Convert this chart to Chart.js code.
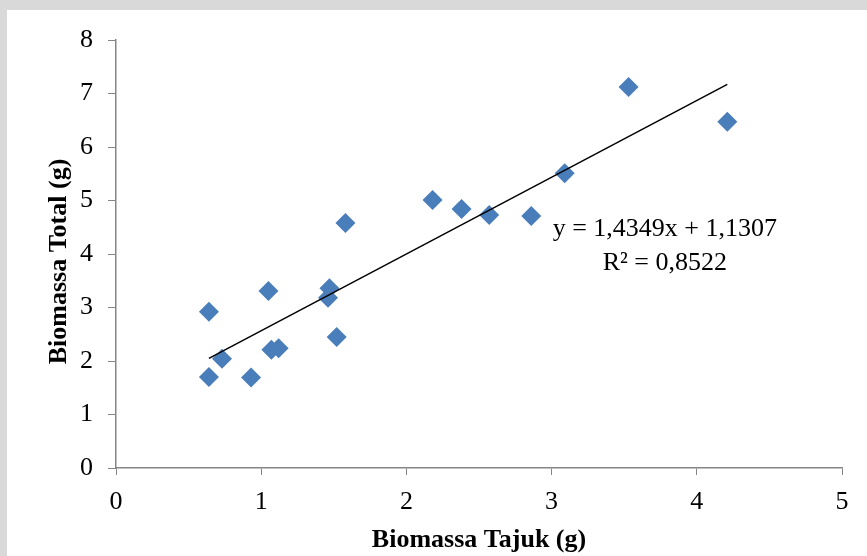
<!DOCTYPE html>
<html>
<head>
<meta charset="utf-8">
<script src="https://cdn.jsdelivr.net/npm/chart.js@4"></script>
<style>
  html, body { margin: 0; padding: 0; background: #d9d9d9; width: 867px; height: 556px; overflow: hidden; }
  #sheet { position: absolute; left: 7px; top: 10px; width: 860px; height: 546px; background: #ffffff; }
  #scatter { position: absolute; left: 0; top: 0; }
</style>
</head>
<body>
<div id="sheet"></div>
<canvas id="scatter" width="867" height="556"></canvas>
<script>
// Biomassa tajuk (x) vs biomassa total (y)
var tajuk = [3.53, 4.21, 3.09, 2.18, 2.38, 2.57, 2.86, 1.58, 1.05, 1.47, 1.46, 0.64, 1.52, 1.07, 1.12, 0.73, 0.64, 0.93];
var total = [7.12, 6.47, 5.51, 5.01, 4.84, 4.73, 4.71, 4.58, 3.31, 3.36, 3.18, 2.92, 2.45, 2.21, 2.24, 2.04, 1.70, 1.69];

// Linear trend line end points
var trendX = [0.64, 4.21];
var trendY = [2.05, 7.17];

var equationLines = ['y = 1,4349x + 1,1307', 'R² = 0,8522'];

var xTicks = { min: 0, max: 5, step: 1 };
var yTicks = { min: 0, max: 8, step: 1 };

var serif = '"Liberation Serif", "Times New Roman", serif';
var axisGray = '#868686';

var points = tajuk.map(function(x, i) { return { x: x, y: total[i] }; });
var trend = trendX.map(function(x, i) { return { x: x, y: trendY[i] }; });

// Equation label and the y axis title (Excel puts it a bit below centre)
var labelsPlugin = {
    id: 'labels',
    afterDraw: function(chart) {
        var ctx = chart.ctx;
        var cx = chart.scales.x.getPixelForValue(3.78);
        var cy = chart.scales.y.getPixelForValue(4.47);
        ctx.save();
        ctx.font = '26px ' + serif;
        ctx.fillStyle = '#000000';
        ctx.textAlign = 'center';
        ctx.textBaseline = 'middle';
        equationLines.forEach(function(line, i) {
            ctx.fillText(line, cx, cy + i * 34);
        });

        ctx.font = 'bold 26px ' + serif;
        ctx.translate(59, chart.scales.y.getPixelForValue(3.86));
        ctx.rotate(-Math.PI / 2);
        ctx.fillText('Biomassa Total (g)', 0, 0);
        ctx.restore();
    }
};

var ctx = document.getElementById('scatter').getContext('2d');
var chart = new Chart(ctx, {
    type: 'scatter',
    data: {
        datasets: [{
            label: 'Trend',
            data: trend,
            showLine: true,
            borderColor: '#000000',
            borderWidth: 1.5,
            pointRadius: 0,
            fill: false
        }, {
            label: 'Biomassa',
            data: points,
            pointStyle: 'rectRot',
            pointRadius: 10,
            pointBackgroundColor: '#4A7EBB',
            pointBorderColor: '#4A7EBB',
            pointBorderWidth: 0
        }]
    },
    options: {
        responsive: false,
        animation: false,
        devicePixelRatio: 1,
        layout: {
            padding: { top: 40, right: 25, left: 0, bottom: 0 }
        },
        plugins: {
            legend: { display: false },
            tooltip: { enabled: false }
        },
        scales: {
            x: {
                type: 'linear',
                min: xTicks.min,
                max: xTicks.max,
                afterFit: function(scale) { scale.height = 88; },
                ticks: {
                    stepSize: xTicks.step,
                    color: '#000000',
                    padding: 12,
                    font: { family: serif, size: 26 }
                },
                grid: {
                    drawOnChartArea: false,
                    drawTicks: true,
                    tickLength: 7,
                    color: axisGray
                },
                border: { color: axisGray, width: 1.5 },
                title: {
                    display: true,
                    text: 'Biomassa Tajuk (g)',
                    color: '#000000',
                    padding: { top: 0, bottom: 0 },
                    font: { family: serif, size: 26, weight: 'bold' }
                }
            },
            y: {
                type: 'linear',
                min: yTicks.min,
                max: yTicks.max,
                afterFit: function(scale) { scale.width = 116; },
                ticks: {
                    stepSize: yTicks.step,
                    color: '#000000',
                    padding: 15,
                    font: { family: serif, size: 26 }
                },
                grid: {
                    drawOnChartArea: false,
                    drawTicks: true,
                    tickLength: 8,
                    color: axisGray
                },
                border: { color: axisGray, width: 1.5 }
            }
        }
    },
    plugins: [labelsPlugin]
});
</script>
</body>
</html>
